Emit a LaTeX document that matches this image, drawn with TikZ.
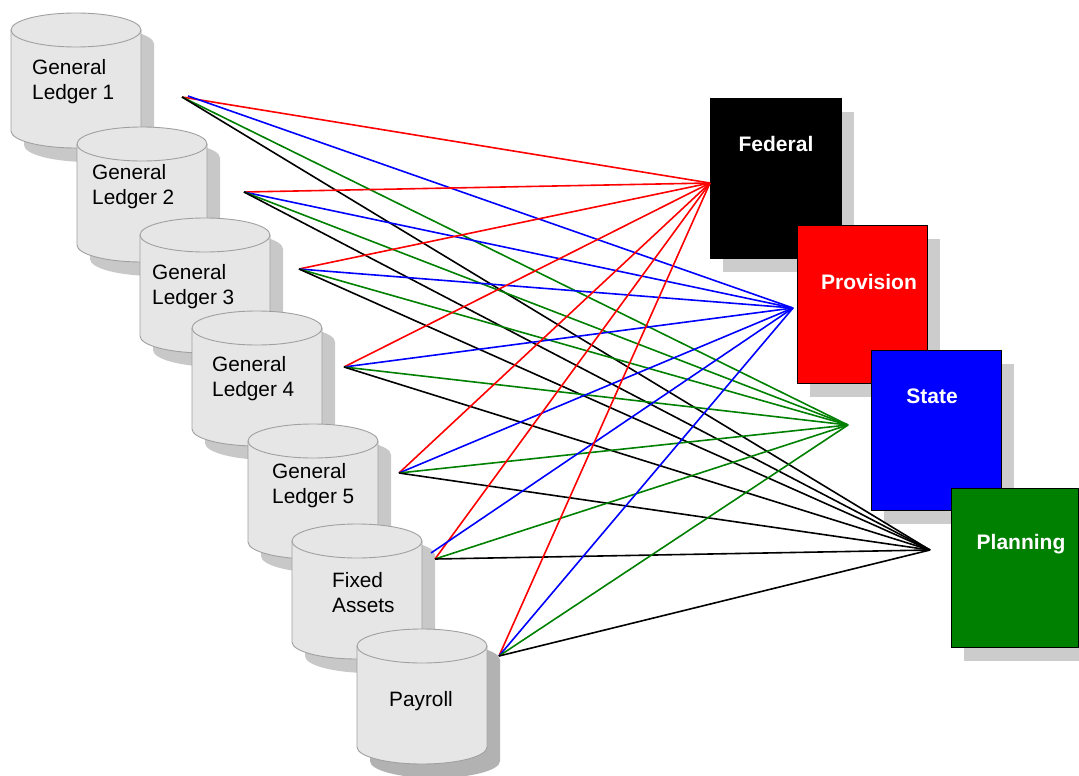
\documentclass[tikz,border=0pt]{standalone}
\usepackage{fontspec}
\setmainfont{Liberation Sans}
\definecolor{cylgray}{HTML}{E6E6E6}
\definecolor{cyledge}{HTML}{A0A0A0}
\definecolor{shgray}{HTML}{C8C8C8}
\definecolor{shdark}{HTML}{B2B2B2}
\definecolor{rshgray}{HTML}{CCCCCC}
\definecolor{pgreen}{HTML}{008000}
\tikzset{
  cylshape/.style={fill=cylgray, draw=cyledge, line width=0.9pt},
  dbcyl/.pic={
    \begin{scope}[yscale=-1]
    \fill[pic actions] (13,31) -- (13,132) arc[start angle=180,end angle=0,x radius=65,y radius=17]
       -- (143,31) arc[start angle=0,end angle=-180,x radius=65,y radius=17] -- cycle;
    \filldraw[cylshape] (0,17) -- (0,118) arc[start angle=180,end angle=0,x radius=65,y radius=17]
       -- (130,17) arc[start angle=0,end angle=-180,x radius=65,y radius=17] -- cycle;
    \draw[cyledge, line width=0.9pt] (0,17) arc[start angle=180,end angle=0,x radius=65,y radius=17];
    \end{scope}
  },
  cyllbl/.style={font=\fontsize{20.8}{25}\selectfont, align=left, anchor=west, inner sep=0pt},
  rptshadow/.style={fill=rshgray},
  rptlbl/.style={font=\fontsize{21}{24}\selectfont\bfseries, text=white, inner sep=0pt},
  conn/.style={line width=1.6pt}
}
\begin{document}
\begin{tikzpicture}[x=1pt,y=1pt,yscale=-1]
\useasboundingbox (0,0) rectangle (1079,776);

% cylinders (back to front)
\pic[fill=shgray] at (11,13)  {dbcyl};
\node[cyllbl] (gl1) at (32,81.5) {General\\Ledger 1};
\pic[fill=shgray] at (77,127) {dbcyl};
\node[cyllbl] (gl2) at (92,187) {General\\Ledger 2};
\pic[fill=shgray] at (140,218) {dbcyl};
\node[cyllbl] (gl3) at (152,286.5) {General\\Ledger 3};
\pic[fill=shgray] at (192,311) {dbcyl};
\node[cyllbl] (gl4) at (212,379) {General\\Ledger 4};
\pic[fill=shgray] at (248,424) {dbcyl};
\node[cyllbl] (gl5) at (272,485.5) {General\\Ledger 5};
\pic[fill=shgray] at (292,524) {dbcyl};
\node[cyllbl] (fa) at (332,592.5) {Fixed\\Assets};
\pic[fill=shdark] at (357,629) {dbcyl};
\node[cyllbl] (pay) at (389,701) {Payroll};

% reports
\fill[rptshadow] (723,112) rectangle (854,272);
\fill[black, draw=black, line width=0.9pt] (710,98) rectangle (841,258);
\node[rptlbl] (fed) at (776,144) {Federal};
\fill[rptshadow] (810,239) rectangle (940,397);
\filldraw[fill=red, draw=black, line width=0.9pt] (797,225) rectangle (927,383);
\node[rptlbl] (prov) at (869,282) {Provision};
\fill[rptshadow] (884,364) rectangle (1014,524);
\filldraw[fill=blue, draw=black, line width=0.9pt] (871,350) rectangle (1001,510);
\node[rptlbl] (state) at (932,396) {State};
\fill[rptshadow] (964,502) rectangle (1079,661);
\filldraw[fill=pgreen, draw=black, line width=0.9pt] (951,488) rectangle (1078,647);
\node[rptlbl] (plan) at (1021,544) {Planning};

% connector end points
\coordinate (s1) at (182,97);
\coordinate (s1b) at (188,96);
\coordinate (s2) at (244,192);
\coordinate (s3) at (299,269);
\coordinate (s4) at (344,367);
\coordinate (s5) at (399,473);
\coordinate (s6) at (435,559);
\coordinate (s6b) at (431,553);
\coordinate (s7) at (499,656);
\coordinate (t1) at (710,183);
\coordinate (t2) at (793,308);
\coordinate (t3) at (848,425);
\coordinate (t4) at (930,550);

\foreach \s/\sb in {s1/s1b,s2/s2,s3/s3,s4/s4,s5/s5,s6/s6b,s7/s7}{
  \draw[conn, red] (\s) -- (t1);
  \draw[conn, blue] (\sb) -- (t2);
  \draw[conn, pgreen] (\s) -- (t3);
  \draw[conn, black] (\s) -- (t4);
}
\end{tikzpicture}
\end{document}
